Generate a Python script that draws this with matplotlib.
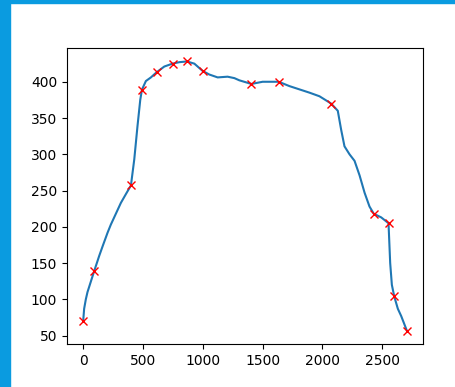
import matplotlib
matplotlib.use("Agg")
import matplotlib.pyplot as plt
from matplotlib.patches import Rectangle

# curve
curve_x = [0, 8, 22, 36, 92, 134, 162, 204, 231, 315, 360, 399, 427, 454, 477,
           491, 524, 566, 613, 678, 747, 803, 867, 929, 998, 1054, 1124, 1207,
           1264, 1305, 1406, 1500, 1634, 1724, 1891, 1975, 2072, 2128, 2156,
           2184, 2226, 2268, 2310, 2352, 2393, 2429, 2491, 2552, 2566, 2580,
           2600, 2630, 2658, 2705]
curve_y = [70, 87, 100, 110, 139, 160, 173, 192, 203, 233, 246, 257, 293, 339, 375,
           389, 401, 406, 413, 421, 425, 427, 428, 425, 415, 410, 406, 407,
           405, 402, 397, 400, 400, 394, 385, 380, 370, 360, 334,
           311, 300, 291, 271, 247, 228, 218, 213, 205, 150, 120,
           104, 87, 77, 57]

# picked points (red crosses)
mark_x = [0, 92, 399, 491, 613, 747, 867, 998, 1406, 1634, 2072, 2429, 2552, 2600, 2705]
mark_y = [70, 139, 257, 389, 413, 425, 428, 415, 397, 400, 370, 218, 205, 104, 57]

fig = plt.figure(figsize=(4.55, 3.87), dpi=100)
ax = fig.add_axes([67 / 455, 1 - 344 / 387, 356 / 455, 296 / 387])

ax.plot(curve_x, curve_y)
ax.plot(mark_x, mark_y, "x", color="red")

# blue frame strips on the left and top edges
fig.patches.append(Rectangle((0, 0), 10 / 455, 1, transform=fig.transFigure,
                             color="#0a9be0", zorder=10))
fig.patches.append(Rectangle((0, 1 - 2.5 / 387), 1, 2.5 / 387, transform=fig.transFigure,
                             color="#0a9be0", zorder=10))

fig.savefig("out.png", dpi=100)
